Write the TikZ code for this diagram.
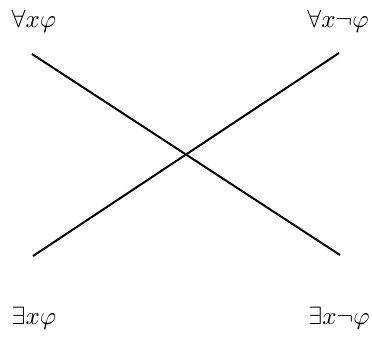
\documentclass[tikz,border=0pt]{standalone}
\begin{document}
\begin{tikzpicture}[x=0.4pt,y=-0.4pt,
  lbl/.style={inner sep=0pt},
  edge/.style={line width=0.8pt}]
\useasboundingbox (0,0) rectangle (372,336);
\node[lbl] (A) at (34,21) {$\forall x\varphi$};
\node[lbl] (E) at (338,21) {$\forall x\neg\varphi$};
\node[lbl] (I) at (34,318) {$\exists x\varphi$};
\node[lbl] (O) at (339,318) {$\exists x\neg\varphi$};
\coordinate (a) at (32,54);
\coordinate (e) at (339,53);
\coordinate (i) at (33,256);
\coordinate (o) at (340,255);
\draw[edge] (a) -- (o);
\draw[edge] (e) -- (i);
\end{tikzpicture}
\end{document}
